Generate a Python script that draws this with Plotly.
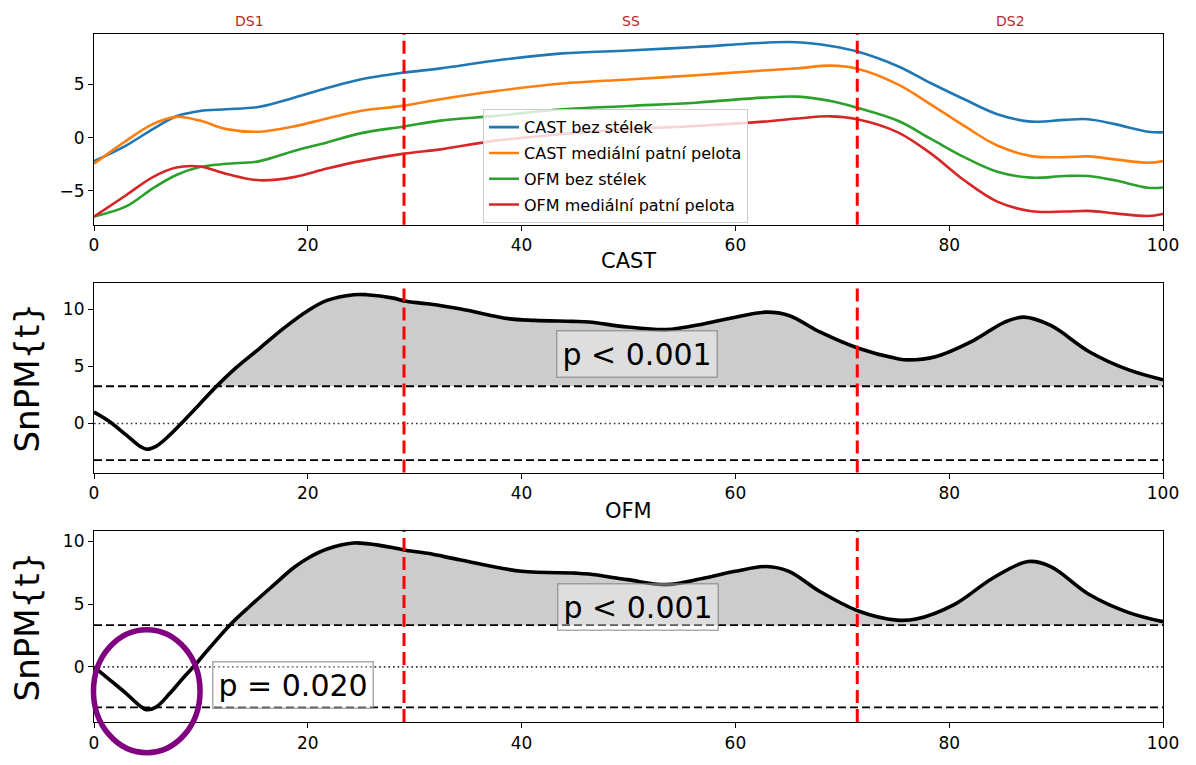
import numpy as np
import plotly.graph_objects as go

# ---------------- data ----------------
x_top = [0, 3, 5.5, 7.7, 9.9, 12.4, 15.5, 18.7, 21.8, 24.9, 29, 32.4, 37.6, 43.8, 50,
         56.3, 62.6, 65.8, 68.9, 71.4, 75.2, 78.3, 81.4, 84.5, 87.7, 90.8, 93, 95.5, 98.6, 100]
cast_bez = [-2.2, -0.74, 0.8, 2.0, 2.5, 2.66, 2.9, 3.75, 4.65, 5.45, 6.1, 6.5, 7.24, 7.9, 8.17,
            8.5, 8.9, 8.95, 8.6, 8.08, 6.7, 5.1, 3.6, 2.2, 1.5, 1.67, 1.73, 1.27, 0.56, 0.5]
cast_pelota = [-2.45, -0.3, 1.27, 1.95, 1.6, 0.8, 0.56, 1.05, 1.8, 2.5, 3.0, 3.6, 4.37, 5.08, 5.45,
               5.85, 6.3, 6.5, 6.75, 6.47, 5.0, 3.1, 1.1, -0.74, -1.73, -1.83, -1.76, -2.04, -2.35, -2.2]
ofm_bez = [-7.4, -6.45, -4.75, -3.5, -2.75, -2.45, -2.2, -1.25, -0.45, 0.4, 1.05, 1.6, 2.04, 2.66, 2.97,
           3.28, 3.75, 3.85, 3.44, 2.8, 1.58, -0.12, -1.83, -3.2, -3.75, -3.6, -3.6, -4.0, -4.7, -4.67]
ofm_pelota = [-7.4, -5.4, -3.7, -2.8, -2.7, -3.4, -4.0, -3.7, -2.9, -2.2, -1.5, -1.1, -0.28, 0.34, 0.8,
              1.1, 1.5, 1.8, 2.0, 1.73, 0.5, -1.5, -4.0, -6.0, -6.9, -6.93, -6.87, -7.1, -7.34, -7.15]
series_names = ["CAST bez stélek", "CAST mediální patní pelota",
                "OFM bez stélek", "OFM mediální patní pelota"]
series_colors = ["#1f77b4", "#ff7f0e", "#2ca02c", "#d62728"]

x_cast = [0, 1.5, 3, 4.3, 4.9, 5.8, 7.1, 8.3, 9.9, 11.5, 13.3, 15.5, 17.7, 20, 21.8, 24.3, 25.5,
          28, 29, 31.2, 34.3, 38.75, 41.25, 44.8, 46.3, 49.9, 53.5, 57.1, 60, 62.9, 65, 67.9,
          71.5, 75.1, 76.2, 78.7, 82.3, 85.2, 87, 89.5, 93.1, 96.8, 100]
t_cast = [1.0, 0.14, -1.0, -2.0, -2.25, -2.0, -1.0, 0.14, 1.72, 3.3, 4.9, 6.6, 8.33, 9.9, 10.8, 11.3, 11.3,
          11.0, 10.75, 10.5, 10.05, 9.2, 9.05, 8.96, 8.9, 8.47, 8.24, 8.76, 9.33, 9.77, 9.48, 8.03,
          6.6, 5.7, 5.58, 5.86, 7.3, 8.9, 9.33, 8.6, 6.3, 4.7, 3.84]

x_ofm = [0, 1.5, 3, 4.3, 4.9, 5.8, 7.1, 8.3, 9.3, 10.8, 12.7, 14.6, 16.8, 18.7, 20, 21.8, 24.3, 25.5,
         28, 29, 31.2, 34.3, 40, 45, 46.3, 49.9, 53.5, 57.1, 60, 62.9, 65, 67.9, 71.5, 75.1, 76.9,
         80.5, 84.1, 87.4, 89.5, 93.1, 96.8, 100]
t_ofm = [0, -1.05, -2.1, -3.1, -3.4, -3.2, -2.1, -0.92, 0, 1.5, 3.32, 4.84, 6.5, 7.9, 8.64, 9.37, 9.85, 9.8,
         9.48, 9.3, 9.03, 8.5, 7.6, 7.46, 7.38, 6.94, 6.54, 7.07, 7.6, 7.98, 7.6, 6.0, 4.45, 3.72, 3.8,
         4.97, 7.07, 8.38, 7.98, 5.76, 4.32, 3.6]

thr_cast = [3.27, -3.22]
thr_ofm = [3.32, -3.22]

phase_bounds = [29.0, 71.4]
phase_labels = ["DS1", "SS", "DS2"]
panel_titles = ["CAST", "OFM"]

p_cast = [("p < 0.001", 50.8, 6.1)]
p_ofm = [("p < 0.001", 50.9, 4.78), ("p = 0.020", 18.6, -1.47)]

SMOOTH = 1.0

# ---------------- figure ----------------
fig = go.Figure()

for name, ys, col in zip(series_names, [cast_bez, cast_pelota, ofm_bez, ofm_pelota], series_colors):
    fig.add_trace(go.Scatter(x=x_top, y=ys, mode="lines", name=name,
                             line=dict(color=col, width=2.6, shape="spline", smoothing=SMOOTH),
                             xaxis="x", yaxis="y", legendgroup=name))


def clip_cross(x, y, thr, upper=True):
    """insert crossing points and clip the curve to the threshold"""
    xs, ys = [], []
    for i in range(len(x)):
        if i > 0:
            a, b = y[i - 1] - thr, y[i] - thr
            if a * b < 0:
                xc = x[i - 1] + (x[i] - x[i - 1]) * a / (a - b)
                xs.append(xc)
                ys.append(thr)
        xs.append(x[i])
        ys.append(max(y[i], thr) if upper else min(y[i], thr))
    return xs, ys


def add_spm(x, t, thr, xa, ya):
    hi, lo = thr
    for th, up in [(hi, True), (lo, False)]:
        xs, ys = clip_cross(x, t, th, up)
        fig.add_trace(go.Scatter(x=xs, y=[th] * len(xs), mode="lines", line=dict(width=0),
                                 showlegend=False, hoverinfo="skip", xaxis=xa, yaxis=ya))
        fig.add_trace(go.Scatter(x=xs, y=ys, mode="lines", fill="tonexty", fillcolor="#cccccc",
                                 line=dict(width=0, shape="spline", smoothing=SMOOTH),
                                 showlegend=False, hoverinfo="skip", xaxis=xa, yaxis=ya))
    for th in [hi, lo]:
        fig.add_trace(go.Scatter(x=[0, 100], y=[th, th], mode="lines",
                                 line=dict(color="black", width=1.8, dash="8px,4px"),
                                 showlegend=False, hoverinfo="skip", xaxis=xa, yaxis=ya))
    fig.add_trace(go.Scatter(x=[0, 100], y=[0, 0], mode="lines",
                             line=dict(color="#333333", width=1.6, dash="1.6px,3px"),
                             showlegend=False, hoverinfo="skip", xaxis=xa, yaxis=ya))
    fig.add_trace(go.Scatter(x=x, y=t, mode="lines",
                             line=dict(color="black", width=3.6, shape="spline", smoothing=SMOOTH),
                             showlegend=False, xaxis=xa, yaxis=ya))


add_spm(x_cast, t_cast, thr_cast, "x2", "y2")
add_spm(x_ofm, t_ofm, thr_ofm, "x3", "y3")

# ---------------- layout ----------------
ax_common = dict(showline=True, linecolor="black", linewidth=1.2, mirror=True,
                 ticks="outside", ticklen=5, tickwidth=1.2, tickcolor="black",
                 showgrid=False, zeroline=False,
                 tickfont=dict(size=17, color="black", family="DejaVu Sans"))

xticks = dict(range=[0, 100], tickmode="array", tickvals=[0, 20, 40, 60, 80, 100])

fig.update_layout(
    width=1196, height=765,
    margin=dict(l=94, r=33, t=34, b=36),
    paper_bgcolor="white", plot_bgcolor="white",
    font=dict(family="DejaVu Sans", color="black"),
    xaxis=dict(domain=[0, 1], anchor="y", **xticks, **ax_common),
    xaxis2=dict(domain=[0, 1], anchor="y2", **xticks, **ax_common),
    xaxis3=dict(domain=[0, 1], anchor="y3", **xticks, **ax_common),
    yaxis=dict(domain=[0.7227, 1.0], anchor="x", range=[-8.17, 9.72],
               tickvals=[-5, 0, 5], **ax_common),
    yaxis2=dict(domain=[0.3626, 0.6388], anchor="x2", range=[-4.3, 12.37],
                tickvals=[0, 5, 10], **ax_common),
    yaxis3=dict(domain=[0.0, 0.2777], anchor="x3", range=[-4.38, 10.81],
                tickvals=[0, 5, 10], **ax_common),
    showlegend=True,
    legend=dict(x=0.3639, y=0.8906, xanchor="left", yanchor="top",
                bgcolor="rgba(255,255,255,0.8)", bordercolor="#cccccc", borderwidth=1,
                font=dict(size=16, color="black", family="DejaVu Sans"),
                tracegroupgap=2, itemwidth=30),
)

shapes = []
for xa in ["x", "x2", "x3"]:
    for b in phase_bounds:
        shapes.append(dict(type="line", xref=xa, yref=xa.replace("x", "y") + " domain",
                           x0=b, x1=b, y0=0, y1=1, layer="above",
                           line=dict(color="red", width=3, dash="13px,6px")))
# purple highlight ellipse around the lower cluster (OFM)
shapes.append(dict(type="circle", xref="x3 domain", yref="y3 domain",
                   x0=-0.0005, x1=0.0992, y0=-0.1606, y1=0.4834, layer="above",
                   line=dict(color="#800080", width=5.5)))
fig.update_layout(shapes=shapes)

annotations = []
bounds = [0] + phase_bounds + [100]
for i, lab in enumerate(phase_labels):
    annotations.append(dict(x=(bounds[i] + bounds[i + 1]) / 2, y=1.0187, xref="x", yref="paper",
                            text=lab, showarrow=False, xanchor="center", yanchor="middle",
                            font=dict(size=14, color="#b8282a")))
annotations.append(dict(x=0.5, y=(729 - 263) / 695, xref="paper", yref="paper", text=panel_titles[0],
                        showarrow=False, xanchor="center", yanchor="middle", font=dict(size=21)))
annotations.append(dict(x=0.5, y=(729 - 516) / 695, xref="paper", yref="paper", text=panel_titles[1],
                        showarrow=False, xanchor="center", yanchor="middle", font=dict(size=21)))
for yc in [(729 - 381) / 695, (729 - 632.5) / 695]:
    annotations.append(dict(x=-0.0627, y=yc, xref="paper", yref="paper", text="SnPM{t}",
                            textangle=-90, showarrow=False, xanchor="center", yanchor="middle",
                            font=dict(size=34)))
for (txt, px, py), (xa, ya) in [(p_cast[0], ("x2", "y2")), (p_ofm[0], ("x3", "y3")), (p_ofm[1], ("x3", "y3"))]:
    annotations.append(dict(x=px, y=py, xref=xa, yref=ya, text=txt, showarrow=False,
                            xanchor="center", yanchor="middle",
                            font=dict(size=30, color="black"),
                            bgcolor="rgba(255,255,255,0.35)",
                            bordercolor="rgba(128,128,128,0.65)", borderwidth=1.5, borderpad=5))
fig.update_layout(annotations=annotations)

fig.write_html("out.html")
